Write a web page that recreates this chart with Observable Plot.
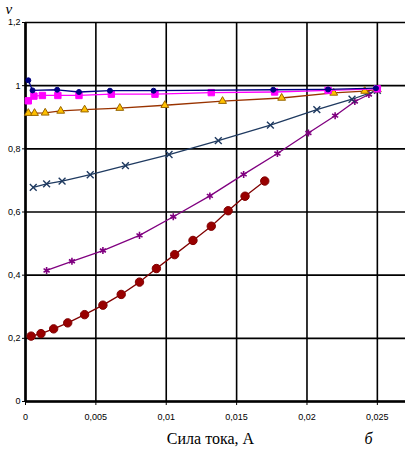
<!DOCTYPE html>
<html><head><meta charset="utf-8">
<script src="https://cdn.jsdelivr.net/npm/d3@7"></script>
<script src="https://cdn.jsdelivr.net/npm/@observablehq/plot@0.6"></script>
<style>body{margin:0;background:#fff}</style>
</head><body><div id="chart"></div>
<script>
const xTicks = [0, 0.005, 0.01, 0.015, 0.02, 0.025];
const yTicks = [0, 0.2, 0.4, 0.6, 0.8, 1, 1.2];
const xTitle = "Сила тока, А";
const yTitle = "v";
const panelLabel = "б";

const s1x = [0.0002, 0.0005, 0.00225, 0.0038, 0.006, 0.0091, 0.0176, 0.0215, 0.0249];
const s1y = [1.017, 0.985, 0.987, 0.980, 0.984, 0.984, 0.987, 0.988, 0.992];
const s2x = [0.0002, 0.0006, 0.0012, 0.0023, 0.0038, 0.0061, 0.0092, 0.0132, 0.0177, 0.0215, 0.025];
const s2y = [0.952, 0.967, 0.969, 0.969, 0.969, 0.973, 0.973, 0.978, 0.980, 0.985, 0.990];
const s3x = [0.0002, 0.00064, 0.0014, 0.0025, 0.0042, 0.0067, 0.0099, 0.014, 0.0182, 0.0219, 0.0241, 0.025];
const s3y = [0.913, 0.913, 0.914, 0.920, 0.924, 0.929, 0.938, 0.951, 0.961, 0.977, 0.983, 0.988];
const s4x = [0.00055, 0.0015, 0.0026, 0.0046, 0.0071, 0.0102, 0.0137, 0.0174, 0.0207, 0.0232, 0.025];
const s4y = [0.678, 0.689, 0.698, 0.718, 0.747, 0.782, 0.826, 0.875, 0.924, 0.957, 0.985];
const s5x = [0.0015, 0.0033, 0.0055, 0.0081, 0.0105, 0.0131, 0.0155, 0.0179, 0.0201, 0.022, 0.0234, 0.0244, 0.0249];
const s5y = [0.415, 0.444, 0.478, 0.526, 0.585, 0.651, 0.719, 0.785, 0.850, 0.905, 0.950, 0.972, 0.987];
const s6x = [0.0004, 0.0011, 0.002, 0.003, 0.0042, 0.0055, 0.0068, 0.0081, 0.0093, 0.0106, 0.0119, 0.0132, 0.0144, 0.0156, 0.017];
const s6y = [0.207, 0.215, 0.230, 0.249, 0.275, 0.305, 0.339, 0.378, 0.421, 0.465, 0.510, 0.555, 0.604, 0.650, 0.698];

const pts = (xs, ys) => xs.map((x, i) => ({x, y: ys[i]}));
const fmt = d => String(+d.toFixed(4)).replace(".", ",");

const series = [
  {d: pts(s6x, s6y), line: "#800000", sym: "circle", r: 4.2, fill: "#990000", stroke: "#800000", sw: 1},
  {d: pts(s5x, s5y), line: "#800080", sym: "asterisk", r: 3.3, fill: "none", stroke: "#800080", sw: 1.6},
  {d: pts(s4x, s4y), line: "#1F3A60", sym: "times", r: 3.2, fill: "none", stroke: "#1F3A60", sw: 1.4},
  {d: pts(s3x, s3y), line: "#993300", sym: "triangle", r: 2.9, fill: "#FFC000", stroke: "#996600", sw: 1},
  {d: pts(s2x, s2y), line: "#FF00FF", sym: "square", r: 3.6, fill: "#FF00FF", stroke: "#FF00FF", sw: 1},
  {d: pts(s1x, s1y), line: "#000080", sym: "circle", r: 2.5, fill: "#000080", stroke: "#000080", sw: 1}
];

const marks = [
  Plot.gridX(xTicks, {stroke: "black", strokeOpacity: 1, strokeWidth: 1.6}),
  Plot.gridY(yTicks, {stroke: "black", strokeOpacity: 1, strokeWidth: 1.6}),
  Plot.axisX(xTicks, {tickSize: 4, tickPadding: 8, tickFormat: fmt, label: null, fontSize: 9}),
  Plot.axisY(yTicks, {tickSize: 3, tickPadding: 2, tickFormat: fmt, label: null, fontSize: 9}),
  Plot.ruleX([0], {stroke: "black", strokeWidth: 2.6}),
  Plot.ruleY([0], {stroke: "black", strokeWidth: 2.6})
];
for (const s of series) {
  marks.push(Plot.line(s.d, {x: "x", y: "y", stroke: s.line, strokeWidth: 1.3}));
  marks.push(Plot.dot(s.d, {x: "x", y: "y", symbol: () => s.sym, r: s.r, fill: s.fill, stroke: s.stroke, strokeWidth: s.sw}));
}
marks.push(Plot.text([xTitle], {frameAnchor: "bottom", dx: -5, dy: 42, fontFamily: "Liberation Serif", fontSize: 16, fill: "black"}));
marks.push(Plot.text([panelLabel], {frameAnchor: "bottom-right", dx: -33, dy: 42, fontFamily: "Liberation Serif", fontStyle: "italic", fontSize: 16, fill: "black"}));
marks.push(Plot.text([yTitle], {frameAnchor: "top-left", dx: -20, dy: -19, fontFamily: "Liberation Serif", fontStyle: "italic", fontSize: 15, fill: "black"}));

const chart = Plot.plot({
  width: 405, height: 450,
  marginLeft: 25, marginRight: 0, marginTop: 22, marginBottom: 49,
  x: {domain: [0, 0.027]},
  y: {domain: [0, 1.2]},
  symbol: {type: "identity"},
  style: {fontFamily: "Liberation Sans", fontSize: "9px", background: "white", overflow: "visible"},
  marks
});
document.getElementById("chart").appendChild(chart);
</script></body></html>
